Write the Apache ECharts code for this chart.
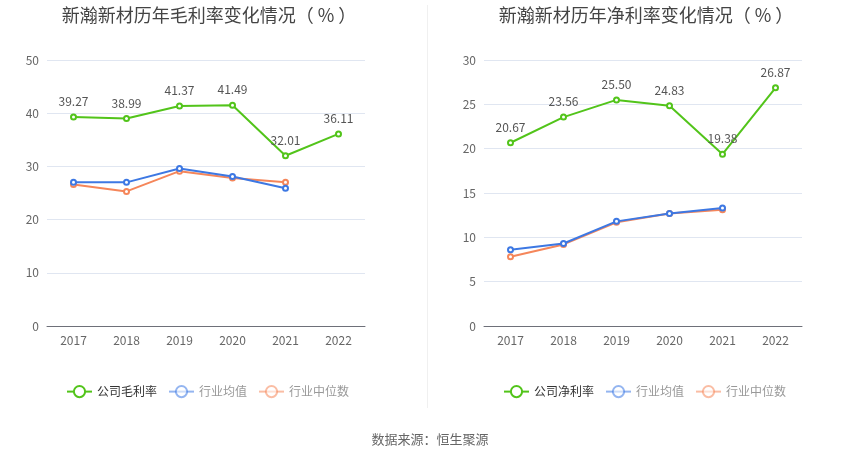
<!DOCTYPE html>
<html><head><meta charset="utf-8">
<script src="https://cdn.jsdelivr.net/npm/echarts@6/dist/echarts.min.js"></script>
<style>html,body{margin:0;padding:0;background:#fff}#c{width:850px;height:459px}</style>
</head><body><div id="c"></div>
<script>
const years = ['2017','2018','2019','2020','2021','2022'];
const grossCompany = [39.27, 38.99, 41.37, 41.49, 32.01, 36.11];
const grossIndustryMean = [27.0, 27.0, 29.6, 28.1, 25.9, null];
const grossIndustryMedian = [26.6, 25.3, 29.1, 27.8, 27.0, null];
const netCompany = [20.67, 23.56, 25.50, 24.83, 19.38, 26.87];
const netIndustryMean = [8.6, 9.3, 11.8, 12.7, 13.3, null];
const netIndustryMedian = [7.8, 9.2, 11.7, 12.7, 13.1, null];
const leftTitle = '新瀚新材历年毛利率变化情况（ % ）';
const rightTitle = '新瀚新材历年净利率变化情况（ % ）';
const source = '数据来源：恒生聚源';

const GREEN = '#52C41A', BLUE = '#3D78E3', ORANGE = '#F5865A';
const FONT = '"Noto Sans CJK SC", "Noto Sans", sans-serif';

function mkSeries(name, data, color, xi, withLabel, z) {
  return {
    name, type: 'line', data, xAxisIndex: xi, yAxisIndex: xi,
    symbol: 'emptyCircle', symbolSize: 5, z: z,
    lineStyle: { width: 2, color }, itemStyle: { color, borderWidth: 1.5 },
    label: withLabel ? { show: true, position: 'top', distance: 6, color: '#555', fontSize: 12, fontFamily: FONT, formatter: p => p.value.toFixed(2) } : { show: false }
  };
}
function legendFor(left, first) {
  const sfx = first === '公司毛利率' ? '' : ' ';
  return {
    left: left, top: 380, itemWidth: 25, itemHeight: 14, itemGap: 11,
    textStyle: { fontSize: 12, fontFamily: FONT, color: '#333' },
    data: [
      { name: first, itemStyle: { color: GREEN }, textStyle: { color: '#333' } },
      { name: '行业均值' + sfx, itemStyle: { color: BLUE, opacity: 0.55 }, lineStyle: { color: BLUE, opacity: 0.55 }, textStyle: { color: '#999' } },
      { name: '行业中位数' + sfx, itemStyle: { color: ORANGE, opacity: 0.55 }, lineStyle: { color: ORANGE, opacity: 0.55 }, textStyle: { color: '#999' } }
    ],
    formatter: n => n.trim()
  };
}
function xAx(gi) {
  return { type: 'category', gridIndex: gi, data: years, boundaryGap: true,
    axisLine: { lineStyle: { color: '#6E7079' } },
    axisTick: { alignWithLabel: true, length: 4, lineStyle: { color: '#6E7079' } },
    axisLabel: { color: '#666', fontSize: 12, fontFamily: FONT, margin: 8 } };
}
function yAx(gi, max, interval) {
  return { type: 'value', gridIndex: gi, min: 0, max, interval,
    axisLine: { show: false }, axisTick: { show: false },
    splitLine: { lineStyle: { color: '#E0E6F1' } },
    axisLabel: { color: '#666', fontSize: 12, fontFamily: FONT, margin: 8 } };
}

const chart = echarts.init(document.getElementById('c'), null, { renderer: 'canvas' });
chart.setOption({
  animation: false,
  backgroundColor: '#fff',
  title: [
    { text: leftTitle, left: 204, top: 1, textAlign: 'center', textStyle: { fontSize: 18, fontWeight: 'normal', color: '#444', fontFamily: FONT } },
    { text: rightTitle, left: 641, top: 1, textAlign: 'center', textStyle: { fontSize: 18, fontWeight: 'normal', color: '#444', fontFamily: FONT } },
    { text: source, left: 425, top: 428, textAlign: 'center', textStyle: { fontSize: 13, fontWeight: 'normal', color: '#666', fontFamily: FONT } }
  ],
  legend: [legendFor(61, '公司毛利率'), legendFor(498, '公司净利率')],
  grid: [
    { left: 47, top: 60, width: 318, height: 266 },
    { left: 484, top: 60, width: 318, height: 266 }
  ],
  xAxis: [xAx(0), xAx(1)],
  yAxis: [yAx(0, 50, 10), yAx(1, 30, 5)],
  graphic: [{ type: 'line', shape: { x1: 427.5, y1: 5, x2: 427.5, y2: 408 }, style: { stroke: '#F0F0F0', lineWidth: 1 } }],
  series: [
    mkSeries('公司毛利率', grossCompany, GREEN, 0, true, 5),
    mkSeries('行业均值', grossIndustryMean, BLUE, 0, false, 4),
    mkSeries('行业中位数', grossIndustryMedian, ORANGE, 0, false, 3),
    mkSeries('公司净利率', netCompany, GREEN, 1, true, 5),
    mkSeries('行业均值 ', netIndustryMean, BLUE, 1, false, 4),
    mkSeries('行业中位数 ', netIndustryMedian, ORANGE, 1, false, 3)
  ]
});
</script></body></html>
